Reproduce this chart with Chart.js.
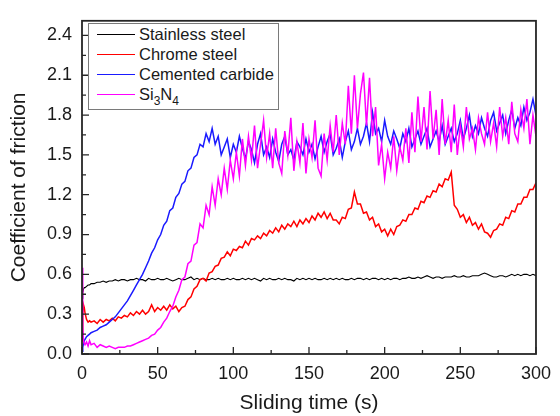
<!DOCTYPE html>
<html lang="en">

<head>
    <meta charset="UTF-8">
    <title>Coefficient of friction vs sliding time</title>
    <script src="https://cdn.jsdelivr.net/npm/chart.js"></script>
    <style>
        body {
            margin: 0;
            background: #fff;
        }

        .container {
            position: relative;
            width: 560px;
            height: 416px;
        }

        #legend {
            position: absolute;
            left: 88px;
            top: 23px;
            width: 191px;
            height: 87px;
            box-sizing: border-box;
            border: 1px solid #7a7a7a;
            background: #fff;
            font-family: "Liberation Sans", Arial, sans-serif;
            font-size: 16.5px;
            color: #1a1a1a;
        }

        .row {
            display: flex;
            align-items: center;
            height: 20px;
        }

        .swatch {
            width: 38px;
            height: 0;
            border-top: 1.5px solid;
            margin-left: 8px;
            margin-right: 4px;
        }

        sub {
            font-size: 12px;
            vertical-align: baseline;
            position: relative;
            top: 5px;
        }
    </style>
</head>

<body>
    <div class="container">
        <canvas id="friction" width="560" height="416"></canvas>
        <div id="legend">
            <div class="row"><span class="swatch" style="border-color:#000000"></span>Stainless steel</div>
            <div class="row"><span class="swatch" style="border-color:#ff0000"></span>Chrome steel</div>
            <div class="row"><span class="swatch" style="border-color:#1a1aff"></span>Cemented carbide</div>
            <div class="row"><span class="swatch" style="border-color:#ff00ff"></span><span>Si<sub>3</sub>N<sub>4</sub></span></div>
        </div>
    </div>

    <script>
        // sliding time (s), shared by every series
        const time = [
            0, 0.5, 1, 1.5, 2, 3, 4, 5, 6,
            8, 10, 12, 14, 16, 18, 20, 22, 24, 26,
            28, 30, 32, 34, 36, 38, 40, 42, 44, 46,
            48, 50, 52, 54, 56, 58, 60, 62, 64, 66,
            68, 70, 72, 74, 76, 78, 80, 82, 84, 86,
            88, 90, 92, 94, 96, 98, 100, 102, 104, 106,
            108, 110, 112, 114, 116, 118, 120, 122, 124, 126,
            128, 130, 132, 134, 136, 138, 140, 142, 144, 146,
            148, 150, 152, 154, 156, 158, 160, 162, 164, 166,
            168, 170, 172, 174, 176, 178, 180, 182, 184, 186,
            188, 190, 192, 194, 196, 198, 200, 202, 204, 206,
            208, 210, 212, 214, 216, 218, 220, 222, 224, 226,
            228, 230, 232, 234, 236, 238, 240, 242, 244, 246,
            248, 250, 252, 254, 256, 258, 260, 262, 264, 266,
            268, 270, 272, 274, 276, 278, 280, 282, 284, 286,
            288, 290, 292, 294, 296, 298, 300
        ];

        const stainlessSteel = [
            0.42, 0.46, 0.49, 0.50, 0.50, 0.51, 0.52, 0.52, 0.53,
            0.53, 0.54, 0.54, 0.55, 0.54, 0.55, 0.55, 0.56, 0.55, 0.56,
            0.56, 0.55, 0.56, 0.56, 0.57, 0.56, 0.56, 0.55, 0.57, 0.56,
            0.56, 0.57, 0.56, 0.56, 0.57, 0.56, 0.55, 0.56, 0.57, 0.56,
            0.56, 0.57, 0.58, 0.56, 0.57, 0.56, 0.57, 0.56, 0.56, 0.57,
            0.56, 0.57, 0.56, 0.56, 0.57, 0.56, 0.57, 0.56, 0.56, 0.57,
            0.56, 0.57, 0.56, 0.57, 0.56, 0.55, 0.57, 0.56, 0.57, 0.56,
            0.56, 0.57, 0.56, 0.57, 0.56, 0.56, 0.55, 0.57, 0.56, 0.57,
            0.56, 0.57, 0.56, 0.57, 0.56, 0.56, 0.57, 0.56, 0.57, 0.56,
            0.57, 0.56, 0.57, 0.56, 0.56, 0.57, 0.56, 0.57, 0.57, 0.56,
            0.57, 0.56, 0.57, 0.57, 0.56, 0.57, 0.56, 0.57, 0.56, 0.57,
            0.57, 0.56, 0.57, 0.57, 0.58, 0.57, 0.57, 0.58, 0.57, 0.58,
            0.59, 0.58, 0.57, 0.58, 0.58, 0.57, 0.58, 0.58, 0.58, 0.59,
            0.58, 0.58, 0.59, 0.58, 0.58, 0.59, 0.59, 0.59, 0.60, 0.61,
            0.60, 0.59, 0.58, 0.58, 0.59, 0.59, 0.58, 0.59, 0.60, 0.59,
            0.60, 0.59, 0.60, 0.60, 0.59, 0.60, 0.59
        ];

        const chromeSteel = [
            0.10, 0.30, 0.37, 0.35, 0.31, 0.26, 0.24, 0.25, 0.24,
            0.25, 0.23, 0.26, 0.24, 0.26, 0.25, 0.27, 0.25, 0.28, 0.27,
            0.29, 0.28, 0.31, 0.29, 0.32, 0.30, 0.33, 0.30, 0.32, 0.37,
            0.32, 0.35, 0.33, 0.36, 0.33, 0.37, 0.34, 0.36, 0.32, 0.35,
            0.36, 0.41, 0.43, 0.49, 0.51, 0.56, 0.57, 0.55, 0.61, 0.62,
            0.66, 0.67, 0.72, 0.73, 0.77, 0.74, 0.79, 0.78, 0.81, 0.80,
            0.85, 0.82, 0.87, 0.86, 0.89, 0.87, 0.91, 0.89, 0.93, 0.91,
            0.95, 0.92, 0.97, 0.94, 0.98, 0.96, 1.00, 0.96, 1.01, 0.98,
            1.02, 0.99, 1.04, 1.01, 1.06, 1.03, 1.07, 1.02, 1.06, 1.01,
            1.01, 0.98, 1.03, 1.02, 1.09, 1.10, 1.22, 1.13, 1.13, 1.06,
            1.07, 1.01, 1.03, 0.96, 0.98, 0.92, 0.94, 0.89, 0.94, 0.90,
            0.96, 0.97, 1.01, 1.00, 1.05, 1.05, 1.10, 1.09, 1.15, 1.14,
            1.19, 1.18, 1.23, 1.22, 1.28, 1.26, 1.32, 1.31, 1.37, 1.12,
            1.09, 1.03, 1.05, 0.99, 1.03, 0.97, 0.99, 0.94, 0.98, 0.92,
            0.91, 0.88, 0.93, 0.94, 0.98, 0.97, 1.03, 1.02, 1.08, 1.07,
            1.13, 1.13, 1.18, 1.18, 1.24, 1.24, 1.29
        ];

        const cementedCarbide = [
            0.02, 0.05, 0.08, 0.10, 0.11, 0.13, 0.14, 0.15, 0.16,
            0.17, 0.18, 0.20, 0.21, 0.22, 0.24, 0.26, 0.28, 0.31, 0.34,
            0.37, 0.40, 0.44, 0.48, 0.52, 0.56, 0.60, 0.65, 0.70, 0.76,
            0.80, 0.86, 0.90, 0.97, 1.00, 1.08, 1.10, 1.18, 1.21, 1.28,
            1.30, 1.38, 1.40, 1.48, 1.50, 1.58, 1.56, 1.66, 1.60, 1.70,
            1.58, 1.64, 1.50, 1.56, 1.62, 1.48, 1.58, 1.52, 1.64, 1.55,
            1.47, 1.60, 1.54, 1.44, 1.58, 1.66, 1.50, 1.56, 1.48, 1.62,
            1.52, 1.45, 1.58, 1.64, 1.50, 1.54, 1.46, 1.60, 1.56, 1.50,
            1.62, 1.52, 1.58, 1.47, 1.56, 1.64, 1.52, 1.60, 1.66, 1.50,
            1.55, 1.62, 1.48, 1.60, 1.68, 1.54, 1.60, 1.70, 1.58, 1.64,
            1.74, 1.60, 1.82, 1.66, 1.70, 1.60, 1.76, 1.64, 1.58, 1.68,
            1.62, 1.55, 1.66, 1.60, 1.70, 1.56, 1.62, 1.68, 1.58, 1.64,
            1.70, 1.56, 1.62, 1.68, 1.60, 1.72, 1.58, 1.64, 1.70, 1.60,
            1.66, 1.76, 1.62, 1.70, 1.80, 1.64, 1.72, 1.66, 1.78, 1.70,
            1.64, 1.76, 1.82, 1.68, 1.74, 1.80, 1.66, 1.76, 1.84, 1.70,
            1.78, 1.72, 1.86, 1.76, 1.82, 1.92, 1.80
        ];

        const siliconNitride = [
            0.65, 0.20, 0.10, 0.08, 0.07, 0.09, 0.06, 0.10, 0.07,
            0.08, 0.05, 0.07, 0.06, 0.05, 0.06, 0.05, 0.04, 0.05, 0.05,
            0.05, 0.06, 0.06, 0.07, 0.08, 0.09, 0.10, 0.11, 0.12, 0.14,
            0.15, 0.18, 0.20, 0.24, 0.27, 0.32, 0.36, 0.43, 0.48, 0.56,
            0.58, 0.68, 0.70, 0.82, 0.84, 0.98, 0.95, 1.12, 1.05, 1.26,
            1.12, 1.32, 1.20, 1.40, 1.24, 1.46, 1.32, 1.52, 1.34, 1.62,
            1.42, 1.64, 1.46, 1.72, 1.40, 1.58, 1.76, 1.48, 1.66, 1.40,
            1.70, 1.44, 1.36, 1.68, 1.50, 1.78, 1.38, 1.60, 1.44, 1.74,
            1.36, 1.62, 1.48, 1.76, 1.40, 1.34, 1.66, 1.46, 1.72, 1.52,
            1.80, 1.50, 1.74, 1.58, 2.02, 1.66, 2.10, 1.70, 1.96, 2.12,
            1.72, 2.08, 1.64, 1.86, 1.42, 1.58, 1.32, 1.52, 1.40, 1.64,
            1.38, 1.56, 1.46, 1.70, 1.44, 1.82, 1.52, 1.94, 1.60, 1.86,
            1.54, 1.98, 1.62, 1.84, 1.50, 1.92, 1.58, 1.76, 1.52, 1.88,
            1.50, 1.72, 1.56, 1.86, 1.62, 1.70, 1.54, 1.78, 1.66, 1.58,
            1.82, 1.60, 1.74, 1.56, 1.86, 1.64, 1.78, 1.58, 1.90, 1.66,
            1.60, 1.84, 1.70, 1.92, 1.58, 1.80, 1.64
        ];

        // axis ticks
        const xMajor = [0, 50, 100, 150, 200, 250, 300];
        const xMinor = [25, 75, 125, 175, 225, 275];
        const yMajor = [0, 0.3, 0.6, 0.9, 1.2, 1.5, 1.8, 2.1, 2.4];
        const yMinor = [0.15, 0.45, 0.75, 1.05, 1.35, 1.65, 1.95, 2.25];

        function pairs(values) {
            return values.map((v, i) => ({ x: time[i], y: v }));
        }

        // ticks drawn inward + the box around the plot
        const axisMarks = {
            id: 'axisMarks',
            afterDatasetsDraw(chart) {
                const { ctx, chartArea: a, scales: { x, y } } = chart;
                ctx.save();
                ctx.strokeStyle = '#262626';
                ctx.lineWidth = 1.3;
                ctx.beginPath();
                xMajor.forEach(v => {
                    const px = x.getPixelForValue(v);
                    ctx.moveTo(px, a.bottom);
                    ctx.lineTo(px, a.bottom - 7);
                });
                xMinor.forEach(v => {
                    const px = x.getPixelForValue(v);
                    ctx.moveTo(px, a.bottom);
                    ctx.lineTo(px, a.bottom - 4);
                });
                yMajor.forEach(v => {
                    const py = y.getPixelForValue(v);
                    ctx.moveTo(a.left, py);
                    ctx.lineTo(a.left + 7, py);
                });
                yMinor.forEach(v => {
                    const py = y.getPixelForValue(v);
                    ctx.moveTo(a.left, py);
                    ctx.lineTo(a.left + 4, py);
                });
                ctx.stroke();
                ctx.lineWidth = 1.8;
                ctx.strokeRect(a.left, a.top, a.right - a.left, a.bottom - a.top);
                ctx.restore();
            }
        };

        Chart.defaults.font.family = '"Liberation Sans", Arial, sans-serif';
        Chart.defaults.color = '#1a1a1a';

        new Chart(document.getElementById('friction'), {
            type: 'line',
            data: {
                datasets: [{
                    label: 'Stainless steel',
                    data: pairs(stainlessSteel),
                    borderColor: '#000000',
                    borderWidth: 1.1,
                    order: 3
                }, {
                    label: 'Chrome steel',
                    data: pairs(chromeSteel),
                    borderColor: '#ff0000',
                    borderWidth: 1.5,
                    order: 2
                }, {
                    label: 'Cemented carbide',
                    data: pairs(cementedCarbide),
                    borderColor: '#1a1aff',
                    borderWidth: 1.5,
                    order: 1
                }, {
                    label: 'Si₃N₄',
                    data: pairs(siliconNitride),
                    borderColor: '#ff00ff',
                    borderWidth: 1.5,
                    order: 0
                }]
            },
            options: {
                responsive: false,
                animation: false,
                layout: {
                    padding: { top: 15, right: 16, bottom: 0, left: 0 }
                },
                elements: {
                    point: { radius: 0 },
                    line: { tension: 0 }
                },
                plugins: {
                    legend: { display: false },
                    tooltip: { enabled: false }
                },
                scales: {
                    x: {
                        type: 'linear',
                        min: 0,
                        max: 300,
                        grid: { display: false, drawTicks: false },
                        border: { display: false },
                        afterBuildTicks: s => { s.ticks = xMajor.map(v => ({ value: v })); },
                        afterFit: s => { s.height = 62; },
                        ticks: {
                            padding: 9,
                            maxRotation: 0,
                            autoSkip: false,
                            font: { size: 18 }
                        },
                        title: {
                            display: true,
                            text: 'Sliding time (s)',
                            font: { size: 21 },
                            padding: { top: 0, bottom: 0 }
                        }
                    },
                    y: {
                        type: 'linear',
                        min: 0,
                        max: 2.51,
                        grid: { display: false, drawTicks: false },
                        border: { display: false },
                        afterBuildTicks: s => { s.ticks = yMajor.map(v => ({ value: v })); },
                        afterFit: s => { s.width = 82; },
                        ticks: {
                            padding: 10,
                            autoSkip: false,
                            font: { size: 18 },
                            callback: v => Number(v).toFixed(1)
                        },
                        title: {
                            display: true,
                            text: 'Coefficient of friction',
                            font: { size: 21 },
                            padding: { top: 7, bottom: 0 }
                        }
                    }
                }
            },
            plugins: [axisMarks]
        });
    </script>
</body>

</html>
